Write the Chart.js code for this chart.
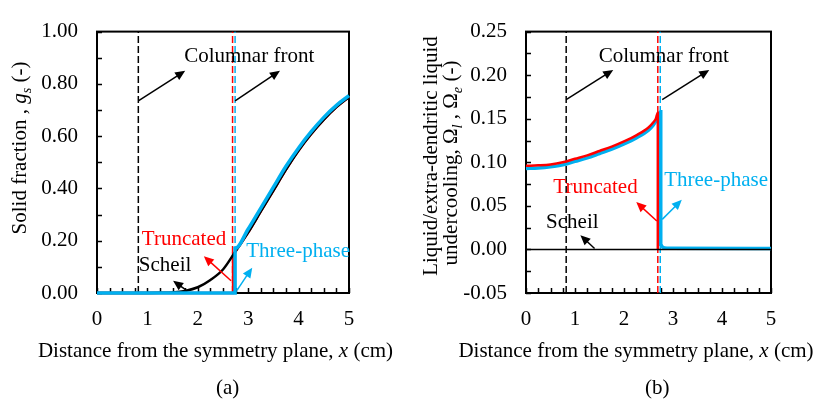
<!DOCTYPE html>
<html>
<head>
<meta charset="utf-8">
<script src="https://cdn.jsdelivr.net/npm/chart.js@4.4.1/dist/chart.umd.min.js"></script>
<style>
  body { margin: 0; background: #fff; }
  canvas { position: absolute; top: 0; }
  #solid { left: 0; }
  #under { left: 409px; }
</style>
</head>
<body>
<canvas id="solid" width="409" height="406"></canvas>
<canvas id="under" width="408" height="406"></canvas>
<script>
// distance from the symmetry plane (cm) vs. solid fraction
const gsScheil = [[0,0],[0.25,0],[0.5,0],[0.75,0],[1,0],[1.25,0.0005],[1.5,0.002],[1.75,0.008],
  [2,0.022],[2.25,0.05],[2.5,0.09],[2.75,0.16],[3,0.232],[3.25,0.312],[3.5,0.392],[3.75,0.472],
  [4,0.545],[4.25,0.608],[4.5,0.663],[4.75,0.711],[5,0.75]];
const gsTruncated = [[0,0],[2.7,0],[2.7,0.15],[2.75,0.16],[3,0.232],[3.25,0.312],[3.5,0.392],
  [3.75,0.472],[4,0.545],[4.25,0.608],[4.5,0.663],[4.75,0.711],[5,0.75]];
const gsThreePhase = [[0,0],[2.74,0],[2.74,0.17],[3,0.245],[3.25,0.325],[3.5,0.405],[3.75,0.485],
  [4,0.555],[4.25,0.617],[4.5,0.672],[4.75,0.718],[5,0.755]];

// liquid / extra-dendritic liquid undercooling
const omScheil = [[0,0],[5,0]];
const omTruncated = [[0,0.096],[0.25,0.0965],[0.5,0.0975],[0.75,0.1],[1,0.104],[1.25,0.108],
  [1.5,0.113],[1.75,0.118],[2,0.124],[2.25,0.131],[2.5,0.14],[2.6,0.146],[2.65,0.15],[2.69,0.157],
  [2.69,0]];
const omThreePhase = [[0,0.093],[0.25,0.0935],[0.5,0.0948],[0.75,0.097],[1,0.101],[1.25,0.105],
  [1.5,0.11],[1.75,0.115],[2,0.121],[2.25,0.128],[2.5,0.137],[2.6,0.143],[2.68,0.15],[2.75,0.158],
  [2.75,0.006],[2.78,0.003],[2.88,0.0015],[5,0.001]];

// columnar front positions (cm)
const frontScheil = 0.82;
const frontTruncated = 2.69;
const frontThreePhase = 2.74;

const xTicks = [0, 1, 2, 3, 4, 5];
const gsTicks = [0, 0.2, 0.4, 0.6, 0.8, 1.0];
const omTicks = [-0.05, 0, 0.05, 0.1, 0.15, 0.2, 0.25];

const BLUE = '#00B0F0';
const RED = '#FF0000';
const FONT = '"Liberation Serif", "Times New Roman", serif';
const FS = 21;

function fontOf(p) {
  return (p.i ? 'italic ' : '') + (p.sub ? FS * 0.68 : FS) + 'px ' + FONT;
}

// text with italic / subscript runs, centred on cx, baseline at by
function richText(ctx, parts, cx, by) {
  let w = 0;
  parts.forEach(p => { ctx.font = fontOf(p); w += ctx.measureText(p.t).width; });
  let x = cx - w / 2;
  ctx.textAlign = 'left';
  ctx.textBaseline = 'alphabetic';
  parts.forEach(p => {
    ctx.font = fontOf(p);
    ctx.fillText(p.t, x, by + (p.sub ? FS * 0.22 : 0));
    x += ctx.measureText(p.t).width;
  });
}

function arrow(ctx, x1, y1, x2, y2, color) {
  const a = Math.atan2(y2 - y1, x2 - x1);
  const L = 10, W = 4.5;
  const c = Math.cos(a), s = Math.sin(a);
  ctx.strokeStyle = color;
  ctx.fillStyle = color;
  ctx.lineWidth = 1.5;
  ctx.beginPath();
  ctx.moveTo(x1, y1);
  ctx.lineTo(x2 - L * 0.7 * c, y2 - L * 0.7 * s);
  ctx.stroke();
  ctx.beginPath();
  ctx.moveTo(x2, y2);
  ctx.lineTo(x2 - L * c + W * s, y2 - L * s - W * c);
  ctx.lineTo(x2 - L * c - W * s, y2 - L * s + W * c);
  ctx.closePath();
  ctx.fill();
}

const framePlugin = {
  id: 'frame',
  beforeDatasetsDraw(chart, args, o) {
    const { ctx, chartArea: a, scales: { x, y } } = chart;
    ctx.save();
    ctx.strokeStyle = '#000';
    ctx.lineWidth = 1.5;
    // inward ticks, major and minor
    ctx.beginPath();
    for (let i = 0; ; i++) {
      const v = x.min + i * o.minorX;
      if (v > x.max + 1e-9) break;
      const px = Math.round(x.getPixelForValue(v)) + 0.5;
      ctx.moveTo(px, a.bottom);
      ctx.lineTo(px, a.bottom - 5);
    }
    for (let i = 0; ; i++) {
      const v = y.min + i * o.minorY;
      if (v > y.max + 1e-9) break;
      const py = Math.round(y.getPixelForValue(v)) + 0.5;
      ctx.moveTo(a.left, py);
      ctx.lineTo(a.left + 5, py);
    }
    ctx.stroke();
    ctx.lineWidth = 2;
    ctx.strokeRect(a.left, a.top, a.right - a.left, a.bottom - a.top);
    ctx.restore();
  },
  afterDatasetsDraw(chart, args, o) {
    const { ctx, scales: { x, y } } = chart;
    ctx.save();
    o.arrows.forEach(r => arrow(ctx, x.getPixelForValue(r[0]), y.getPixelForValue(r[1]),
      x.getPixelForValue(r[2]), y.getPixelForValue(r[3]), r[4]));
    ctx.font = FS + 'px ' + FONT;
    ctx.textBaseline = 'middle';
    o.notes.forEach(n => {
      ctx.fillStyle = n.c;
      ctx.textAlign = n.align;
      ctx.fillText(n.t, x.getPixelForValue(n.x), y.getPixelForValue(n.y));
    });
    ctx.restore();
  },
  afterDraw(chart, args, o) {
    const ctx = chart.ctx;
    ctx.save();
    ctx.fillStyle = '#000';
    richText(ctx, o.xTitle, o.xTitlePos[0], o.xTitlePos[1]);
    richText(ctx, [{ t: o.caption }], o.captionPos[0], o.captionPos[1]);
    o.yTitle.forEach(line => {
      ctx.save();
      ctx.translate(line.bx, line.cy);
      ctx.rotate(-Math.PI / 2);
      richText(ctx, line.parts, 0, 0);
      ctx.restore();
    });
    ctx.restore();
  }
};

const xTitleParts = [{ t: 'Distance from the symmetry plane, ' }, { t: 'x', i: true }, { t: ' (cm)' }];

function curve(label, data, color, width, order) {
  return { label, data, borderColor: color, borderWidth: width, pointRadius: 0,
    cubicInterpolationMode: 'monotone', order, clip: false };
}
function front(xv, lo, hi, color) {
  return { data: [[xv, lo], [xv, hi]], borderColor: color, borderWidth: 1.5,
    borderDash: [7, 3], pointRadius: 0, order: 5 };
}

function axes(yMin, yMax, yTickVals, yWidth) {
  const tickFont = { family: FONT, size: FS };
  return {
    x: {
      type: 'linear', min: 0, max: 5,
      afterBuildTicks: s => { s.ticks = xTicks.map(v => ({ value: v })); },
      ticks: { font: tickFont, color: '#000', padding: 14, maxRotation: 0 },
      grid: { display: false, drawTicks: false },
      border: { display: false },
      afterFit: s => { s.height = 113; }
    },
    y: {
      type: 'linear', min: yMin, max: yMax,
      afterBuildTicks: s => { s.ticks = yTickVals.map(v => ({ value: v })); },
      ticks: { font: tickFont, color: '#000', padding: 19, callback: v => v.toFixed(2) },
      grid: { display: false, drawTicks: false },
      border: { display: false },
      afterFit: s => { s.width = yWidth; }
    }
  };
}

const common = {
  responsive: false,
  animation: false,
  devicePixelRatio: 1,
  events: [],
  plugins: { legend: { display: false }, tooltip: { enabled: false } }
};

new Chart(document.getElementById('solid'), {
  type: 'line',
  data: {
    datasets: [
      curve('Three-phase', gsThreePhase, BLUE, 3.5, 0),
      curve('Scheil', gsScheil, '#000', 2.5, 1),
      curve('Truncated', gsTruncated, RED, 2.5, 2),
      front(frontScheil, 0, 1, '#000'),
      front(frontTruncated, 0, 1, RED),
      front(frontThreePhase, 0, 1, BLUE)
    ]
  },
  options: {
    ...common,
    layout: { padding: { left: 0, right: 60, top: 16, bottom: 0 } },
    scales: axes(0, 1, gsTicks, 97),
    plugins: {
      ...common.plugins,
      frame: {
        minorX: 0.25, minorY: 0.1,
        notes: [
          { t: 'Columnar front', x: 3.02, y: 0.906, c: '#000', align: 'center' },
          { t: 'Truncated', x: 0.89, y: 0.206, c: RED, align: 'left' },
          { t: 'Scheil', x: 0.83, y: 0.105, c: '#000', align: 'left' },
          { t: 'Three-phase', x: 2.96, y: 0.159, c: BLUE, align: 'left' }
        ],
        arrows: [
          [0.82, 0.735, 1.75, 0.85, '#000'],
          [2.74, 0.735, 3.63, 0.85, '#000'],
          [2.66, 0.047, 2.12, 0.141, RED],
          [1.77, 0.011, 1.51, 0.047, '#000'],
          [2.78, 0.011, 3.08, 0.097, BLUE]
        ],
        xTitle: xTitleParts, xTitlePos: [215.5, 357],
        caption: '(a)', captionPos: [227.7, 394],
        yTitle: [
          { bx: 26, cy: 148, parts: [{ t: 'Solid fraction , ' }, { t: 'g', i: true }, { t: 's', i: true, sub: true }, { t: ' (-)' }] }
        ]
      }
    }
  },
  plugins: [framePlugin]
});

new Chart(document.getElementById('under'), {
  type: 'line',
  data: {
    datasets: [
      curve('Scheil', omScheil, '#000', 1.5, 0),
      curve('Truncated', omTruncated, RED, 2.5, 1),
      curve('Three-phase', omThreePhase, BLUE, 3.5, 2),
      front(frontScheil, -0.05, 0.25, '#000'),
      front(frontTruncated, -0.05, 0.25, RED),
      front(frontThreePhase, -0.05, 0.25, BLUE)
    ]
  },
  options: {
    ...common,
    layout: { padding: { left: 0, right: 46, top: 16, bottom: 0 } },
    scales: axes(-0.05, 0.25, omTicks, 117),
    plugins: {
      ...common.plugins,
      frame: {
        minorX: 0.25, minorY: 0.025,
        notes: [
          { t: 'Columnar front', x: 2.81, y: 0.221, c: '#000', align: 'center' },
          { t: 'Truncated', x: 0.557, y: 0.0713, c: RED, align: 'left' },
          { t: 'Three-phase', x: 2.82, y: 0.079, c: BLUE, align: 'left' },
          { t: 'Scheil', x: 0.41, y: 0.0312, c: '#000', align: 'left' }
        ],
        arrows: [
          [0.82, 0.172, 1.78, 0.206, '#000'],
          [2.78, 0.172, 3.74, 0.206, '#000'],
          [2.67, 0.0326, 2.25, 0.0543, RED],
          [2.78, 0.0345, 3.18, 0.0569, BLUE],
          [1.4, 0.001, 1.11, 0.0164, '#000']
        ],
        xTitle: xTitleParts, xTitlePos: [227, 357],
        caption: '(b)', captionPos: [248.3, 394],
        yTitle: [
          { bx: 28, cy: 156, parts: [{ t: 'Liquid/extra-dendritic liquid' }] },
          { bx: 48, cy: 163, parts: [{ t: 'undercooling, Ω' }, { t: 'l', i: true, sub: true }, { t: ' , Ω' }, { t: 'e', i: true, sub: true }, { t: ' (-)' }] }
        ]
      }
    }
  },
  plugins: [framePlugin]
});
</script>
</body>
</html>
